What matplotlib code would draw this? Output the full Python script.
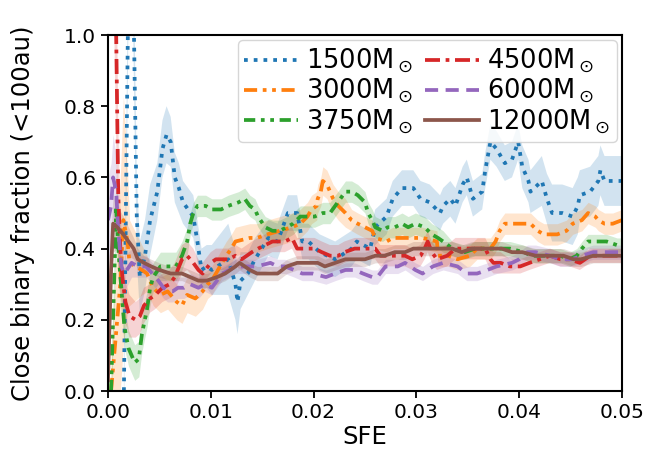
import matplotlib
matplotlib.use("Agg")
import matplotlib.pyplot as plt
import numpy as np

# (SFE, close binary fraction, band half-width) per cluster mass
m1500 = [
    (0.00155, 0.00, 0.10), (0.0022, 1.70, 0.15), (0.00253, 1.00, 0.15), (0.0028, 0.49, 0.12),
    (0.0031, 0.32, 0.10), (0.0036, 0.38, 0.10), (0.0041, 0.48, 0.10), (0.0048, 0.56, 0.08),
    (0.0053, 0.68, 0.08), (0.0057, 0.72, 0.08), (0.0061, 0.70, 0.07), (0.0065, 0.60, 0.07),
    (0.0069, 0.57, 0.07), (0.0073, 0.53, 0.06), (0.0083, 0.49, 0.06), (0.0087, 0.42, 0.06),
    (0.0091, 0.34, 0.06), (0.0096, 0.35, 0.06), (0.0101, 0.34, 0.07), (0.0117, 0.37, 0.10),
    (0.0124, 0.30, 0.10), (0.0126, 0.25, 0.09), (0.0129, 0.31, 0.08), (0.0136, 0.33, 0.06),
    (0.0143, 0.37, 0.06), (0.0156, 0.43, 0.05), (0.0165, 0.42, 0.05), (0.0175, 0.50, 0.05),
    (0.0184, 0.50, 0.05), (0.0189, 0.42, 0.05), (0.0195, 0.42, 0.05), (0.0206, 0.39, 0.05),
    (0.0221, 0.37, 0.05), (0.0237, 0.40, 0.05), (0.0242, 0.42, 0.05), (0.0255, 0.40, 0.05),
    (0.0260, 0.46, 0.05), (0.0271, 0.49, 0.05), (0.0277, 0.54, 0.05), (0.0286, 0.57, 0.05),
    (0.0297, 0.57, 0.05), (0.0304, 0.54, 0.05), (0.0313, 0.53, 0.05), (0.0323, 0.50, 0.05),
    (0.0326, 0.52, 0.05), (0.0333, 0.54, 0.05), (0.0338, 0.52, 0.05), (0.0345, 0.58, 0.05),
    (0.0349, 0.60, 0.05), (0.0355, 0.54, 0.05), (0.0364, 0.56, 0.05), (0.0367, 0.62, 0.05),
    (0.0372, 0.70, 0.05), (0.0378, 0.68, 0.05), (0.0386, 0.64, 0.05), (0.0393, 0.65, 0.05),
    (0.0399, 0.70, 0.05), (0.0403, 0.63, 0.06), (0.0409, 0.59, 0.06), (0.0411, 0.56, 0.06),
    (0.0422, 0.59, 0.07), (0.0427, 0.54, 0.07), (0.0432, 0.50, 0.08), (0.0442, 0.50, 0.08),
    (0.0452, 0.49, 0.08), (0.0457, 0.52, 0.08), (0.0459, 0.55, 0.07), (0.0469, 0.56, 0.07),
    (0.0477, 0.59, 0.07), (0.0479, 0.62, 0.07), (0.0483, 0.59, 0.07), (0.0500, 0.59, 0.07),
]

m3000 = [
    (0.0003, 0.00, 0.10), (0.0012, 0.30, 0.30), (0.0015, 0.48, 0.35), (0.0019, 0.42, 0.20),
    (0.0021, 0.36, 0.12), (0.0033, 0.34, 0.07), (0.0038, 0.33, 0.05), (0.0044, 0.29, 0.05),
    (0.0051, 0.27, 0.05), (0.0058, 0.28, 0.05), (0.0067, 0.25, 0.05), (0.0072, 0.24, 0.05),
    (0.0077, 0.27, 0.05), (0.0085, 0.26, 0.05), (0.0092, 0.28, 0.05), (0.0097, 0.30, 0.04),
    (0.0101, 0.31, 0.04), (0.0115, 0.38, 0.04), (0.0120, 0.40, 0.04), (0.0124, 0.42, 0.04),
    (0.0138, 0.43, 0.04), (0.0145, 0.43, 0.04), (0.0155, 0.44, 0.04), (0.0167, 0.45, 0.04),
    (0.0179, 0.46, 0.04), (0.0187, 0.47, 0.04), (0.0194, 0.49, 0.04), (0.0198, 0.51, 0.04),
    (0.0203, 0.52, 0.04), (0.0204, 0.54, 0.04), (0.0207, 0.56, 0.04), (0.0209, 0.59, 0.04),
    (0.0213, 0.58, 0.04), (0.0219, 0.54, 0.04), (0.0224, 0.52, 0.04), (0.0231, 0.50, 0.04),
    (0.0237, 0.48, 0.03), (0.0243, 0.47, 0.03), (0.0250, 0.46, 0.03), (0.0257, 0.45, 0.03),
    (0.0260, 0.43, 0.03), (0.0271, 0.42, 0.03), (0.0277, 0.43, 0.03), (0.0289, 0.43, 0.03),
    (0.0299, 0.43, 0.03), (0.0306, 0.43, 0.03), (0.0320, 0.42, 0.03), (0.0321, 0.38, 0.03),
    (0.0331, 0.38, 0.03), (0.0340, 0.37, 0.03), (0.0352, 0.38, 0.03), (0.0359, 0.40, 0.03),
    (0.0372, 0.40, 0.03), (0.0377, 0.42, 0.03), (0.0381, 0.45, 0.03), (0.0386, 0.47, 0.03),
    (0.0393, 0.47, 0.03), (0.0403, 0.47, 0.03), (0.0411, 0.47, 0.03), (0.0418, 0.45, 0.03),
    (0.0424, 0.44, 0.03), (0.0437, 0.44, 0.03), (0.0446, 0.45, 0.03), (0.0452, 0.47, 0.03),
    (0.0461, 0.48, 0.03), (0.0467, 0.50, 0.03), (0.0474, 0.49, 0.03), (0.0477, 0.48, 0.03),
    (0.0483, 0.47, 0.03), (0.0491, 0.47, 0.03), (0.0500, 0.48, 0.03),
]

m3750 = [
    (0.0003, 0.00, 0.05), (0.0008, 0.51, 0.10), (0.0011, 0.36, 0.08), (0.0016, 0.18, 0.06),
    (0.0020, 0.12, 0.05), (0.0026, 0.08, 0.05), (0.0030, 0.09, 0.05), (0.0033, 0.16, 0.05),
    (0.0038, 0.23, 0.05), (0.0041, 0.29, 0.05), (0.0044, 0.32, 0.04), (0.0051, 0.35, 0.04),
    (0.0066, 0.35, 0.04), (0.0072, 0.38, 0.04), (0.0077, 0.42, 0.04), (0.0080, 0.47, 0.03),
    (0.0083, 0.50, 0.03), (0.0087, 0.52, 0.03), (0.0095, 0.52, 0.03), (0.0101, 0.51, 0.03),
    (0.0110, 0.51, 0.03), (0.0117, 0.52, 0.03), (0.0127, 0.53, 0.03), (0.0133, 0.54, 0.03),
    (0.0138, 0.52, 0.03), (0.0143, 0.51, 0.03), (0.0146, 0.49, 0.03), (0.0153, 0.46, 0.03),
    (0.0160, 0.45, 0.03), (0.0167, 0.45, 0.03), (0.0174, 0.46, 0.03), (0.0180, 0.47, 0.03),
    (0.0187, 0.49, 0.03), (0.0194, 0.49, 0.03), (0.0201, 0.49, 0.03), (0.0209, 0.50, 0.03),
    (0.0216, 0.50, 0.03), (0.0221, 0.52, 0.03), (0.0226, 0.54, 0.03), (0.0231, 0.56, 0.03),
    (0.0237, 0.56, 0.03), (0.0243, 0.55, 0.03), (0.0250, 0.53, 0.03), (0.0253, 0.50, 0.03),
    (0.0257, 0.48, 0.03), (0.0260, 0.46, 0.03), (0.0267, 0.45, 0.03), (0.0272, 0.46, 0.03),
    (0.0279, 0.46, 0.03), (0.0286, 0.47, 0.03), (0.0292, 0.46, 0.03), (0.0299, 0.47, 0.03),
    (0.0308, 0.46, 0.03), (0.0315, 0.44, 0.03), (0.0321, 0.43, 0.03), (0.0326, 0.42, 0.03),
    (0.0335, 0.40, 0.02), (0.0347, 0.39, 0.02), (0.0357, 0.40, 0.02), (0.0367, 0.40, 0.02),
    (0.0376, 0.40, 0.02), (0.0386, 0.40, 0.02), (0.0391, 0.40, 0.02), (0.0404, 0.39, 0.02),
    (0.0413, 0.38, 0.02), (0.0427, 0.38, 0.02), (0.0440, 0.38, 0.02), (0.0449, 0.37, 0.02),
    (0.0456, 0.38, 0.02), (0.0461, 0.40, 0.02), (0.0467, 0.42, 0.02), (0.0476, 0.42, 0.02),
    (0.0485, 0.42, 0.02), (0.0495, 0.41, 0.02), (0.0500, 0.41, 0.02),
]

m4500 = [
    (0.0005, 1.50, 0.30), (0.0008, 1.00, 0.30), (0.0010, 0.55, 0.20), (0.0012, 0.40, 0.12),
    (0.0014, 0.32, 0.08), (0.0017, 0.25, 0.06), (0.0021, 0.21, 0.06), (0.0027, 0.20, 0.05),
    (0.0031, 0.21, 0.05), (0.0035, 0.24, 0.05), (0.0041, 0.26, 0.04), (0.0046, 0.27, 0.04),
    (0.0053, 0.29, 0.04), (0.0060, 0.30, 0.04), (0.0065, 0.32, 0.04), (0.0072, 0.37, 0.04),
    (0.0077, 0.38, 0.04), (0.0083, 0.36, 0.04), (0.0088, 0.34, 0.03), (0.0092, 0.33, 0.03),
    (0.0100, 0.36, 0.03), (0.0105, 0.37, 0.03), (0.0110, 0.37, 0.03), (0.0117, 0.37, 0.03),
    (0.0124, 0.38, 0.03), (0.0130, 0.37, 0.03), (0.0140, 0.39, 0.03), (0.0146, 0.40, 0.03),
    (0.0153, 0.41, 0.03), (0.0160, 0.42, 0.03), (0.0166, 0.42, 0.03), (0.0172, 0.42, 0.03),
    (0.0179, 0.43, 0.03), (0.0184, 0.40, 0.03), (0.0193, 0.40, 0.03), (0.0201, 0.40, 0.03),
    (0.0208, 0.39, 0.03), (0.0216, 0.38, 0.03), (0.0224, 0.38, 0.03), (0.0230, 0.39, 0.03),
    (0.0240, 0.40, 0.03), (0.0248, 0.40, 0.03), (0.0255, 0.40, 0.03), (0.0260, 0.40, 0.03),
    (0.0265, 0.38, 0.03), (0.0270, 0.38, 0.03), (0.0276, 0.38, 0.03), (0.0282, 0.38, 0.03),
    (0.0289, 0.38, 0.03), (0.0296, 0.37, 0.03), (0.0304, 0.38, 0.03), (0.0308, 0.40, 0.03),
    (0.0311, 0.42, 0.03), (0.0315, 0.39, 0.03), (0.0320, 0.37, 0.03), (0.0330, 0.38, 0.03),
    (0.0338, 0.40, 0.03), (0.0354, 0.40, 0.03), (0.0367, 0.40, 0.03), (0.0372, 0.37, 0.03),
    (0.0375, 0.36, 0.03), (0.0382, 0.36, 0.03), (0.0391, 0.35, 0.02), (0.0401, 0.35, 0.02),
    (0.0410, 0.36, 0.02), (0.0420, 0.37, 0.02), (0.0430, 0.38, 0.02), (0.0440, 0.37, 0.02),
    (0.0449, 0.37, 0.02), (0.0459, 0.36, 0.02), (0.0469, 0.38, 0.02), (0.0479, 0.38, 0.02),
    (0.0490, 0.38, 0.02), (0.0500, 0.38, 0.02),
]

m6000 = [
    (0.0000, 0.48, 0.12), (0.0003, 0.52, 0.12), (0.0005, 0.60, 0.12), (0.0008, 0.56, 0.10),
    (0.0010, 0.45, 0.08), (0.0013, 0.35, 0.06), (0.0016, 0.33, 0.05), (0.0023, 0.36, 0.04),
    (0.0029, 0.35, 0.03), (0.0037, 0.35, 0.03), (0.0043, 0.33, 0.03), (0.0049, 0.31, 0.03),
    (0.0054, 0.29, 0.03), (0.0058, 0.28, 0.03), (0.0063, 0.28, 0.03), (0.0068, 0.29, 0.03),
    (0.0074, 0.29, 0.03), (0.0080, 0.30, 0.03), (0.0088, 0.29, 0.03), (0.0094, 0.30, 0.02),
    (0.0101, 0.29, 0.02), (0.0106, 0.31, 0.02), (0.0111, 0.33, 0.02), (0.0118, 0.34, 0.02),
    (0.0124, 0.35, 0.02), (0.0135, 0.35, 0.02), (0.0145, 0.35, 0.02), (0.0158, 0.36, 0.02),
    (0.0165, 0.35, 0.02), (0.0172, 0.35, 0.02), (0.0181, 0.34, 0.02), (0.0189, 0.33, 0.02),
    (0.0199, 0.33, 0.02), (0.0212, 0.32, 0.02), (0.0221, 0.33, 0.02), (0.0231, 0.34, 0.02),
    (0.0240, 0.34, 0.02), (0.0248, 0.33, 0.02), (0.0257, 0.32, 0.02), (0.0262, 0.32, 0.02),
    (0.0270, 0.35, 0.02), (0.0276, 0.35, 0.02), (0.0282, 0.35, 0.02), (0.0289, 0.36, 0.02),
    (0.0299, 0.34, 0.02), (0.0306, 0.33, 0.02), (0.0316, 0.35, 0.02), (0.0326, 0.36, 0.02),
    (0.0340, 0.35, 0.02), (0.0349, 0.33, 0.02), (0.0359, 0.33, 0.02), (0.0369, 0.34, 0.02),
    (0.0378, 0.35, 0.02), (0.0393, 0.36, 0.02), (0.0400, 0.37, 0.02), (0.0408, 0.39, 0.02),
    (0.0416, 0.39, 0.02), (0.0430, 0.38, 0.02), (0.0440, 0.37, 0.02), (0.0451, 0.37, 0.02),
    (0.0461, 0.38, 0.02), (0.0472, 0.39, 0.02), (0.0482, 0.39, 0.02), (0.0495, 0.39, 0.02),
    (0.0500, 0.39, 0.02),
]

m12000 = [
    (0.0000, 0.03, 0.08), (0.0003, 0.34, 0.10), (0.0005, 0.47, 0.08), (0.0009, 0.46, 0.06),
    (0.0015, 0.44, 0.05), (0.0020, 0.42, 0.04), (0.0025, 0.40, 0.03), (0.0029, 0.37, 0.03),
    (0.0035, 0.36, 0.02), (0.0042, 0.35, 0.02), (0.0050, 0.34, 0.02), (0.0061, 0.33, 0.02),
    (0.0072, 0.33, 0.02), (0.0080, 0.32, 0.02), (0.0088, 0.31, 0.02), (0.0096, 0.31, 0.02),
    (0.0106, 0.32, 0.02), (0.0114, 0.33, 0.02), (0.0124, 0.35, 0.02), (0.0128, 0.36, 0.02),
    (0.0138, 0.34, 0.02), (0.0145, 0.33, 0.02), (0.0151, 0.33, 0.02), (0.0158, 0.33, 0.02),
    (0.0165, 0.33, 0.02), (0.0174, 0.35, 0.02), (0.0184, 0.36, 0.02), (0.0194, 0.36, 0.02),
    (0.0204, 0.36, 0.02), (0.0211, 0.35, 0.02), (0.0221, 0.36, 0.02), (0.0231, 0.37, 0.02),
    (0.0240, 0.37, 0.02), (0.0250, 0.37, 0.02), (0.0260, 0.38, 0.02), (0.0269, 0.38, 0.02),
    (0.0279, 0.39, 0.02), (0.0289, 0.39, 0.02), (0.0297, 0.40, 0.02), (0.0306, 0.40, 0.02),
    (0.0315, 0.40, 0.02), (0.0325, 0.40, 0.02), (0.0335, 0.40, 0.02), (0.0344, 0.39, 0.02),
    (0.0354, 0.40, 0.02), (0.0364, 0.40, 0.02), (0.0374, 0.40, 0.02), (0.0383, 0.40, 0.02),
    (0.0393, 0.39, 0.02), (0.0403, 0.39, 0.02), (0.0416, 0.38, 0.02), (0.0430, 0.38, 0.02),
    (0.0443, 0.38, 0.02), (0.0453, 0.37, 0.02), (0.0460, 0.37, 0.02), (0.0472, 0.38, 0.02),
    (0.0485, 0.38, 0.02), (0.0500, 0.38, 0.02),
]

masses = ["1500", "3000", "3750", "4500", "6000", "12000"]
runs = [m1500, m3000, m3750, m4500, m6000, m12000]
colors = ["C0", "C1", "C2", "C3", "C4", "C5"]
styles = [
    (0, (1, 1.6)),
    (0, (3.5, 1.5, 1, 1.5, 1, 1.5)),
    (0, (3, 1.5, 1, 1.5, 1, 1.5)),
    (0, (4, 1.5, 1, 1.5)),
    (0, (3.5, 2)),
    "-",
]

plt.rcParams["axes.linewidth"] = 1.5
plt.rcParams["xtick.major.width"] = 1.3
plt.rcParams["ytick.major.width"] = 1.3
plt.rcParams["xtick.major.size"] = 5
plt.rcParams["ytick.major.size"] = 5

fig = plt.figure(figsize=(6.52, 4.68), dpi=100)
ax = fig.add_axes([0.1656, 0.1645, 0.7884, 0.7607])

for mass, run, c, ls in zip(masses, runs, colors, styles):
    sfe, frac, err = (np.array(v) for v in zip(*run))
    ax.fill_between(sfe, frac - err, frac + err, color=c, alpha=0.2, lw=0)
    ax.plot(sfe, frac, color=c, ls=ls, lw=2.7, label=mass + r"M$_\odot$")

ax.set_xlim(0, 0.05)
ax.set_ylim(0, 1)
ax.set_xticks([0, 0.01, 0.02, 0.03, 0.04, 0.05])
ax.set_yticks([0, 0.2, 0.4, 0.6, 0.8, 1.0])
ax.tick_params(labelsize=14.5)
ax.set_xlabel("SFE", fontsize=17.5, labelpad=2)
ax.set_ylabel("Close binary fraction (<100au)", fontsize=17.5, labelpad=21)
ax.legend(loc="upper right", ncol=2, fontsize=18.5, labelspacing=0.05,
          handlelength=2.1, handletextpad=0.3, columnspacing=0.5,
          borderpad=0.25, borderaxespad=0.2)

fig.savefig("out.png", dpi=100)
